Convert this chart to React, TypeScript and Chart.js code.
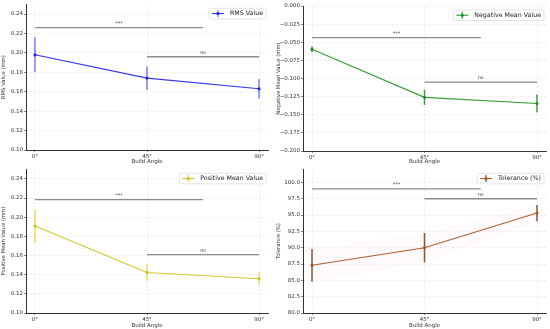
import React, { useEffect, useRef } from 'react';
import Chart from 'chart.js/auto';

const categories = ['0°', '45°', '90°'];
const categoryPositions = [0, 1, 2];

const rmsMean = [0.198, 0.174, 0.163];
const rmsErr = [0.018, 0.012, 0.010];
const rmsTicks = [0.10, 0.12, 0.14, 0.16, 0.18, 0.20, 0.22, 0.24];
const rmsSigFrom = [0, 1];
const rmsSigTo = [1.5, 2];
const rmsSigY = [0.226, 0.196];
const rmsSigLabel = ['***', 'ns'];

const negMean = [-0.0597, -0.126, -0.1345];
const negErr = [0.004, 0.0105, 0.0125];
const negTicks = [-0.2, -0.175, -0.15, -0.125, -0.1, -0.075, -0.05, -0.025, 0];
const negSigFrom = [0, 1];
const negSigTo = [1.5, 2];
const negSigY = [-0.0436, -0.105];
const negSigLabel = ['***', 'ns'];

const posMean = [0.1908, 0.1423, 0.1358];
const posErr = [0.0175, 0.009, 0.0067];
const posTicks = [0.10, 0.12, 0.14, 0.16, 0.18, 0.20, 0.22, 0.24];
const posSigFrom = [0, 1];
const posSigTo = [1.5, 2];
const posSigY = [0.2183, 0.1609];
const posSigLabel = ['***', 'ns'];

const tolMean = [87.3, 90.0, 95.3];
const tolErr = [2.5, 2.25, 1.25];
const tolTicks = [80, 82.5, 85, 87.5, 90, 92.5, 95, 97.5, 100];
const tolSigFrom = [0, 1];
const tolSigTo = [1.5, 2];
const tolSigY = [99.0, 97.5];
const tolSigLabel = ['***', 'ns'];

const FONT = "'DejaVu Sans', sans-serif";

type Panel = {
  label: string;
  yTitle: string;
  mean: number[];
  err: number[];
  ticks: number[];
  yMin: number;
  yMax: number;
  decimals: number;
  lineColor: string;
  errColor: string;
  sigFrom: number[];
  sigTo: number[];
  sigY: number[];
  sigLabel: string[];
  band?: string;
  left: number;
  top: number;
  width: number;
  height: number;
  pad: { top: number; right: number; left: number; bottom: number };
  yWidth: number;
  xHeight: number;
};

const panels: Panel[] = [
  {
    label: 'RMS Value', yTitle: 'RMS Value (mm)', mean: rmsMean, err: rmsErr, ticks: rmsTicks,
    yMin: 0.1, yMax: 0.25, decimals: 2, lineColor: 'rgba(20,20,235,0.85)', errColor: 'rgba(80,80,245,0.75)',
    sigFrom: rmsSigFrom, sigTo: rmsSigTo, sigY: rmsSigY, sigLabel: rmsSigLabel,
    left: 0, top: 0, width: 275, height: 165, pad: { top: 4, right: 7, left: 0, bottom: 0 }, yWidth: 26, xHeight: 15,
  },
  {
    label: 'Negative Mean Value', yTitle: 'Negative Mean Value (mm)', mean: negMean, err: negErr, ticks: negTicks,
    yMin: -0.2, yMax: 0, decimals: 3, lineColor: 'rgba(20,140,20,0.85)', errColor: 'rgba(20,130,20,0.8)',
    sigFrom: negSigFrom, sigTo: negSigTo, sigY: negSigY, sigLabel: negSigLabel,
    left: 275, top: 0, width: 275, height: 165, pad: { top: 6, right: 3, left: 0, bottom: 0 }, yWidth: 28, xHeight: 14,
  },
  {
    label: 'Positive Mean Value', yTitle: 'Positive Mean Value (mm)', mean: posMean, err: posErr, ticks: posTicks,
    yMin: 0.1, yMax: 0.25, decimals: 2, lineColor: 'rgba(200,190,10,0.85)', errColor: 'rgba(225,215,60,0.8)',
    sigFrom: posSigFrom, sigTo: posSigTo, sigY: posSigY, sigLabel: posSigLabel,
    left: 0, top: 165, width: 275, height: 164, pad: { top: 3, right: 7, left: 0, bottom: 0 }, yWidth: 26, xHeight: 16,
  },
  {
    label: 'Tolerance (%)', yTitle: 'Tolerance (%)', mean: tolMean, err: tolErr, ticks: tolTicks,
    yMin: 80, yMax: 102, decimals: 1, lineColor: 'rgba(170,85,30,0.95)', errColor: 'rgba(110,55,20,0.85)',
    sigFrom: tolSigFrom, sigTo: tolSigTo, sigY: tolSigY, sigLabel: tolSigLabel, band: 'rgba(255,120,200,0.035)',
    left: 275, top: 165, width: 275, height: 164, pad: { top: 3, right: 3, left: 0, bottom: 0 }, yWidth: 28, xHeight: 16,
  },
];

function fmt(v: number, d: number) {
  const s = Math.abs(v).toFixed(d);
  return v < -1e-9 ? '\u2212' + s : s;
}

function PanelChart({ p }: { p: Panel }) {
  const ref = useRef<HTMLCanvasElement | null>(null);
  useEffect(() => {
    if (!ref.current) return;
    const pts = categoryPositions.map((x, i) => ({ x, y: p.mean[i] }));
    const datasets: any[] = [];
    if (p.band) {
      datasets.push({
        type: 'line', data: categoryPositions.map((x, i) => ({ x, y: p.mean[i] - p.err[i] })),
        borderWidth: 0, pointRadius: 0, fill: false, borderColor: 'rgba(0,0,0,0)',
      });
      datasets.push({
        type: 'line', data: categoryPositions.map((x, i) => ({ x, y: p.mean[i] + p.err[i] })),
        borderWidth: 0, pointRadius: 0, fill: '-1', backgroundColor: p.band, borderColor: 'rgba(0,0,0,0)',
      });
    }
    p.sigY.forEach((y, i) => {
      datasets.push({
        type: 'line', data: [{ x: p.sigFrom[i], y }, { x: p.sigTo[i], y }],
        borderColor: '#8c8c8c', borderWidth: 1.4, pointRadius: 0, fill: false,
      });
    });
    datasets.push({
      type: 'line', label: p.label, data: pts, borderColor: p.lineColor, backgroundColor: p.lineColor,
      borderWidth: 1.1, pointRadius: 1.6, pointBorderWidth: 0, fill: false,
    });

    const plugin = {
      id: 'extras',
      beforeDatasetsDraw(chart: any) {
        const { ctx } = chart;
        const xs = chart.scales.x;
        const ys = chart.scales.y;
        ctx.save();
        ctx.strokeStyle = p.errColor;
        ctx.lineWidth = 1.5;
        categoryPositions.forEach((x, i) => {
          const px = xs.getPixelForValue(x);
          ctx.beginPath();
          ctx.moveTo(px, ys.getPixelForValue(p.mean[i] - p.err[i]));
          ctx.lineTo(px, ys.getPixelForValue(p.mean[i] + p.err[i]));
          ctx.stroke();
        });
        ctx.restore();
      },
      afterDatasetsDraw(chart: any) {
        const { ctx, chartArea } = chart;
        const xs = chart.scales.x;
        const ys = chart.scales.y;
        ctx.save();
        ctx.fillStyle = '#444';
        ctx.font = `5px ${FONT}`;
        ctx.textAlign = 'center';
        ctx.textBaseline = 'bottom';
        p.sigY.forEach((y, i) => {
          const mx = xs.getPixelForValue((p.sigFrom[i] + p.sigTo[i]) / 2);
          ctx.fillText(p.sigLabel[i], mx, ys.getPixelForValue(y) - 1.5);
        });
        // legend
        ctx.font = `6.3px ${FONT}`;
        const tw = ctx.measureText(p.label).width;
        const h = 10.5;
        const w = tw + 24;
        const right = chartArea.right - 2;
        const left = right - w;
        const top = chartArea.top + 4;
        ctx.fillStyle = 'rgba(255,255,255,0.85)';
        ctx.strokeStyle = '#dcdcdc';
        ctx.lineWidth = 0.8;
        ctx.beginPath();
        if (ctx.roundRect) ctx.roundRect(left, top, w, h, 1.5); else ctx.rect(left, top, w, h);
        ctx.fill();
        ctx.stroke();
        const cy = top + h / 2;
        const mx0 = left + 3;
        const mx1 = left + 15;
        ctx.strokeStyle = p.lineColor;
        ctx.lineWidth = 1.1;
        ctx.beginPath();
        ctx.moveTo(mx0, cy);
        ctx.lineTo(mx1, cy);
        ctx.stroke();
        ctx.strokeStyle = p.errColor;
        ctx.lineWidth = 1.3;
        ctx.beginPath();
        ctx.moveTo((mx0 + mx1) / 2, cy - 3.5);
        ctx.lineTo((mx0 + mx1) / 2, cy + 3.5);
        ctx.stroke();
        ctx.fillStyle = p.lineColor;
        ctx.beginPath();
        ctx.arc((mx0 + mx1) / 2, cy, 1.6, 0, Math.PI * 2);
        ctx.fill();
        ctx.fillStyle = '#222';
        ctx.textAlign = 'left';
        ctx.textBaseline = 'middle';
        ctx.fillText(p.label, mx1 + 6, cy + 0.3);
        ctx.restore();
      },
    };

    const chart = new Chart(ref.current, {
      type: 'line',
      data: { datasets },
      plugins: [plugin],
      options: {
        animation: false,
        responsive: false,
        devicePixelRatio: 1,
        layout: { padding: p.pad },
        plugins: { legend: { display: false }, tooltip: { enabled: false } },
        scales: {
          x: {
            type: 'linear',
            min: -0.08,
            max: 2.08,
            afterBuildTicks: (s: any) => { s.ticks = categoryPositions.map((v) => ({ value: v })); },
            afterFit: (s: any) => { s.height = p.xHeight; },
            ticks: {
              callback: (v: any) => categories[categoryPositions.indexOf(Number(v))] ?? '',
              font: { family: FONT, size: 5.5 }, color: '#333', padding: 1, maxRotation: 0, autoSkip: false,
            },
            grid: { color: '#e6e6e6', tickColor: '#555', tickLength: 2, tickBorderDash: [], lineWidth: 0.7 },
            border: { display: true, color: '#333', width: 1, dash: [2, 2] },
            title: { display: true, text: 'Build Angle', font: { family: FONT, size: 5.5 }, color: '#333', padding: { top: 0, bottom: 0 } },
          },
          y: {
            type: 'linear',
            min: p.yMin,
            max: p.yMax,
            afterBuildTicks: (s: any) => { s.ticks = p.ticks.map((v) => ({ value: v })); },
            afterFit: (s: any) => { s.width = p.yWidth; },
            ticks: {
              callback: (v: any) => fmt(Number(v), p.decimals),
              font: { family: FONT, size: 5.5 }, color: '#333', padding: 1, autoSkip: false,
            },
            grid: { color: '#e6e6e6', tickColor: '#555', tickLength: 2, lineWidth: 0.7 },
            border: { display: true, color: '#333', width: 1, dash: [2, 2] },
            title: { display: true, text: p.yTitle, font: { family: FONT, size: 5.3 }, color: '#333', padding: { top: 0, bottom: 0 } },
          },
        },
      } as any,
    });
    return () => chart.destroy();
  }, [p]);
  return (
    <canvas
      ref={ref}
      width={p.width}
      height={p.height}
      style={{ position: 'absolute', left: p.left, top: p.top, width: p.width, height: p.height }}
    />
  );
}

export default function App() {
  return (
    <div style={{ position: 'absolute', left: 0, top: 0, width: 550, height: 329, background: '#fff' }}>
      {panels.map((p, i) => (
        <PanelChart key={i} p={p} />
      ))}
    </div>
  );
}
